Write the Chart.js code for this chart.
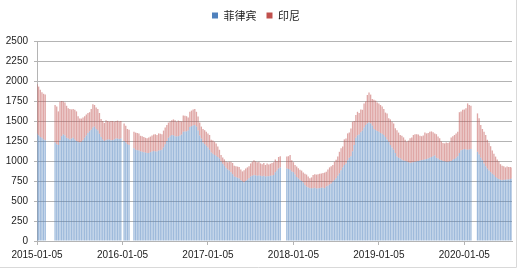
<!DOCTYPE html>
<html>
<head>
<meta charset="utf-8">
<script src="https://cdn.jsdelivr.net/npm/chart.js@4.4.1/dist/chart.umd.min.js"></script>
<style>
  html, body { margin: 0; padding: 0; background: #fff; }
  #wrap { position: relative; width: 527px; height: 269px; }
</style>
</head>
<body>
<div id="wrap"><canvas id="chart" width="527" height="269"></canvas></div>
<script>
// 周度数据：菲律宾 / 印尼（空值为缺失周）
const START_DATE = '2015-01-05';
const WEEK_COUNT = 290;

const SERIES_NAMES = ['菲律宾', '印尼'];

const TICK_LABELS = ['2015-01-05', '2016-01-05', '2017-01-05', '2018-01-05', '2019-01-05', '2020-01-05'];

const Y_TICKS = [0, 250, 500, 750, 1000, 1250, 1500, 1750, 2000, 2250, 2500];

const philippines = [
    1340, 1320, 1300, 1290, 1270, 1260,
    null, null, null, null, null,
    1230, 1210, 1200, 1260, 1310, 1330, 1320, 1290, 1280, 1270,
    1280, 1290, 1270, 1250, 1240, 1230, 1240, 1260, 1290, 1320,
    1350, 1370, 1390, 1420, 1430, 1400, 1380, 1340, 1300, 1270,
    1250, 1260, 1270, 1270, 1260, 1260, 1270, 1280, 1280, 1275, 1280,
    null,
    1250, 1230, 1210, 1200,
    null, null,
    1160, 1140, 1135, 1130, 1120, 1115, 1110, 1105, 1100, 1100,
    1110, 1120, 1125, 1120, 1120, 1130, 1135, 1140, 1170, 1210,
    1250, 1290, 1310, 1325, 1320, 1310, 1305, 1310, 1320, 1330,
    1365, 1370, 1370, 1380, 1425, 1435, 1445, 1450, 1430, 1380,
    1320, 1280, 1230, 1210, 1190, 1170, 1140, 1105, 1090, 1075,
    1065, 1050, 1030, 995, 965, 940, 915, 895, 880, 860,
    835, 805, 800, 790, 780, 760, 745, 735, 750, 765,
    785, 805, 815, 825, 820, 815, 820, 815, 810, 815,
    805, 810, 810, 815, 820, 825, 860, 880, 905, 920,
    null, null, null,
    905, 900, 890, 870, 860, 830, 800, 780, 765, 750,
    730, 700, 680, 670, 660, 660, 660, 665, 655, 660,
    660, 665, 665, 660, 680, 690, 705, 720, 740, 760,
    785, 815, 845, 885, 920, 950, 970, 1010, 1040, 1060,
    1120, 1200, 1290, 1320, 1330, 1360, 1380, 1420, 1450, 1470,
    1480, 1470, 1440, 1400, 1385, 1375, 1365, 1350, 1340, 1325,
    1300, 1270, 1240, 1200, 1170, 1140, 1100, 1055, 1040, 1030,
    1015, 1005, 1000, 995, 985, 975, 980, 985, 990, 995,
    1000, 1005, 1010, 1015, 1020, 1025, 1030, 1040, 1050, 1060,
    1070, 1040, 1030, 1015, 1010, 1000, 995, 990, 990, 995,
    1000, 1015, 1025, 1040, 1060, 1100, 1135, 1140, 1150, 1145,
    1140, 1145, 1150,
    null, null, null,
    1115, 1080, 1040, 1010, 970, 935, 905, 880, 860, 840,
    825, 800, 785, 775, 765, 760, 765, 765, 770, 770, 775, 780
];

const indonesia = [
    620, 610, 590, 570, 570, 570,
    null, null, null, null, null,
    470, 470, 420, 480, 440, 415, 410, 400, 380, 380,
    365, 360, 370, 370, 320, 300, 290, 285, 270, 260,
    250, 240, 260, 290, 270, 270, 270, 260, 225, 230,
    225, 250, 230, 220, 240, 240, 220, 220, 225, 220, 220,
    null,
    220, 210, 190, 190,
    null, null,
    205, 215, 215, 215, 195, 195, 190, 185, 185, 195,
    195, 200, 205, 215, 205, 215, 205, 195, 210, 210,
    200, 190, 185, 185, 200, 200, 185, 195, 180, 165,
    205, 195, 190, 165, 190, 195, 200, 200, 185, 175,
    160, 150, 170, 175, 175, 175, 185, 160, 165, 165,
    155, 130, 110, 80, 80, 80, 80, 90, 110, 130,
    140, 135, 135, 140, 145, 135, 125, 150, 155, 155,
    150, 165, 175, 185, 175, 170, 170, 155, 150, 160,
    145, 160, 145, 150, 155, 160, 160, 120, 145, 140,
    null, null, null,
    150, 160, 185, 140, 125, 120, 130, 130, 125, 130,
    125, 140, 150, 135, 125, 135, 165, 170, 175, 175,
    180, 180, 185, 195, 185, 205, 215, 215, 210, 230,
    230, 240, 270, 275, 260, 320, 310, 335, 315, 345,
    370, 300, 285, 295, 270, 285, 260, 300, 295, 355,
    375, 360, 335, 365, 370, 355, 355, 350, 340, 325,
    305, 325, 295, 320, 320, 330, 310, 330, 315, 295,
    300, 290, 265, 245, 270, 310, 315, 340, 345, 340,
    330, 310, 300, 305, 335, 320, 320, 325, 320, 300,
    275, 295, 275, 270, 235, 225, 225, 240, 235, 240,
    295, 295, 300, 305, 305, 510, 485, 500, 495, 515,
    580, 555, 540,
    null, null, null,
    480, 455, 410, 390, 395, 390, 360, 350, 325, 290,
    265, 255, 235, 220, 195, 180, 170, 155, 160, 155, 150, 140
];

// 周度日期标签
const weeks = [];
const d0 = new Date(START_DATE + 'T00:00:00Z');
for (let i = 0; i < WEEK_COUNT; i++) {
    const d = new Date(d0.getTime() + i * 7 * 86400000);
    weeks.push(d.toISOString().slice(0, 10));
}

const GRID = '#b4b4b4';
const TEXT = '#222222';
const TICK_FONT = { family: "'Liberation Sans', Arial, sans-serif", size: 10 };

// 图例区域固定高度
const legendHeight = {
    id: 'legendHeight',
    beforeInit(chart) {
        const fit = chart.legend.fit;
        chart.legend.fit = function () {
            fit.call(this);
            this.height = 41;
        };
    }
};

// 外框
const frame = {
    id: 'frame',
    afterDraw(chart) {
        const ctx = chart.ctx;
        ctx.save();
        ctx.strokeStyle = '#d9d9d9';
        ctx.lineWidth = 1;
        ctx.beginPath();
        ctx.moveTo(516.5, 0);
        ctx.lineTo(516.5, 267.5);
        ctx.lineTo(0, 267.5);
        ctx.stroke();
        ctx.restore();
    }
};

new Chart(document.getElementById('chart'), {
    type: 'bar',
    data: {
        labels: weeks,
        datasets: [
            {
                label: SERIES_NAMES[0],
                data: philippines,
                backgroundColor: 'rgba(79, 129, 189, 0.55)',
                barPercentage: 0.8,
                categoryPercentage: 1
            },
            {
                label: SERIES_NAMES[1],
                data: indonesia,
                backgroundColor: 'rgba(192, 80, 77, 0.5)',
                barPercentage: 0.8,
                categoryPercentage: 1
            }
        ]
    },
    options: {
        responsive: false,
        animation: false,
        layout: { padding: { left: 0, right: 15, top: 0, bottom: 0 } },
        plugins: {
            legend: {
                position: 'top',
                labels: {
                    boxWidth: 6,
                    boxHeight: 6,
                    padding: 10,
                    color: TEXT,
                    font: { family: "'Noto Sans CJK SC', sans-serif", size: 11 },
                    generateLabels(chart) {
                        return chart.data.datasets.map((ds, i) => ({
                            text: ds.label,
                            fillStyle: i === 0 ? '#4F81BD' : '#C0504D',
                            strokeStyle: 'rgba(0,0,0,0)',
                            lineWidth: 0,
                            fontColor: TEXT,
                            datasetIndex: i
                        }));
                    }
                }
            },
            tooltip: { enabled: false }
        },
        scales: {
            x: {
                stacked: true,
                offset: false,
                afterFit(scale) { scale.height = 28; },
                grid: {
                    offset: false,
                    drawOnChartArea: false,
                    drawTicks: true,
                    tickLength: 4,
                    color: ctx => (ctx.index % 52 === 0 ? GRID : 'rgba(0,0,0,0)')
                },
                border: { display: true, color: GRID },
                ticks: {
                    autoSkip: false,
                    maxRotation: 0,
                    minRotation: 0,
                    padding: 4,
                    color: TEXT,
                    font: TICK_FONT,
                    callback: (val, idx) => (idx % 52 === 0 ? TICK_LABELS[idx / 52] : '')
                }
            },
            y: {
                stacked: true,
                min: 0,
                max: 2500,
                afterFit(scale) { scale.width = 37; },
                afterBuildTicks(scale) { scale.ticks = Y_TICKS.map(v => ({ value: v })); },
                grid: { color: GRID, tickLength: 3 },
                border: { display: true, color: GRID },
                ticks: {
                    padding: 6,
                    color: TEXT,
                    font: TICK_FONT,
                    callback: v => String(v)
                }
            }
        }
    },
    plugins: [legendHeight, frame]
});
</script>
</body>
</html>
